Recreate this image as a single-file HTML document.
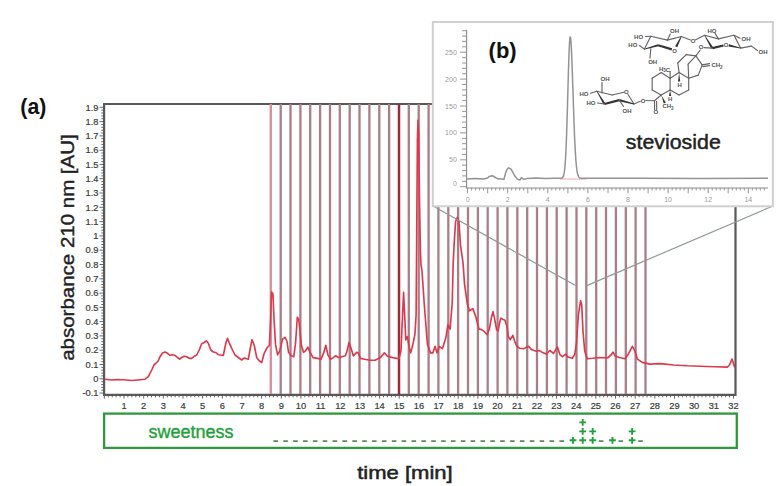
<!DOCTYPE html>
<html><head><meta charset="utf-8"><style>
html,body{margin:0;padding:0;background:#fff;width:780px;height:486px;overflow:hidden;position:relative;font-family:"Liberation Sans",sans-serif}
</style></head><body><svg width="780" height="486" viewBox="0 0 780 486" style="position:absolute;left:0;top:0">
<text x="20.3" y="114" font-family="Liberation Sans" font-weight="bold" font-size="22" textLength="26" lengthAdjust="spacingAndGlyphs" fill="#111">(a)</text>
<text transform="translate(74.2,360.8) rotate(-90)" font-family="Liberation Sans" font-size="19" textLength="226.5" lengthAdjust="spacingAndGlyphs" stroke="#222" stroke-width="0.4" fill="#222">absorbance 210 nm [AU]</text>
<text x="98.5" y="396.3" text-anchor="end" font-family="Liberation Sans" font-size="9.3" stroke="#3a3a3a" stroke-width="0.2" fill="#3a3a3a">-0.1</text>
<text x="98.5" y="382.0" text-anchor="end" font-family="Liberation Sans" font-size="9.3" stroke="#3a3a3a" stroke-width="0.2" fill="#3a3a3a">0</text>
<text x="98.5" y="367.7" text-anchor="end" font-family="Liberation Sans" font-size="9.3" stroke="#3a3a3a" stroke-width="0.2" fill="#3a3a3a">0.1</text>
<text x="98.5" y="353.4" text-anchor="end" font-family="Liberation Sans" font-size="9.3" stroke="#3a3a3a" stroke-width="0.2" fill="#3a3a3a">0.2</text>
<text x="98.5" y="339.1" text-anchor="end" font-family="Liberation Sans" font-size="9.3" stroke="#3a3a3a" stroke-width="0.2" fill="#3a3a3a">0.3</text>
<text x="98.5" y="324.8" text-anchor="end" font-family="Liberation Sans" font-size="9.3" stroke="#3a3a3a" stroke-width="0.2" fill="#3a3a3a">0.4</text>
<text x="98.5" y="310.6" text-anchor="end" font-family="Liberation Sans" font-size="9.3" stroke="#3a3a3a" stroke-width="0.2" fill="#3a3a3a">0.5</text>
<text x="98.5" y="296.3" text-anchor="end" font-family="Liberation Sans" font-size="9.3" stroke="#3a3a3a" stroke-width="0.2" fill="#3a3a3a">0.6</text>
<text x="98.5" y="282.0" text-anchor="end" font-family="Liberation Sans" font-size="9.3" stroke="#3a3a3a" stroke-width="0.2" fill="#3a3a3a">0.7</text>
<text x="98.5" y="267.7" text-anchor="end" font-family="Liberation Sans" font-size="9.3" stroke="#3a3a3a" stroke-width="0.2" fill="#3a3a3a">0.8</text>
<text x="98.5" y="253.4" text-anchor="end" font-family="Liberation Sans" font-size="9.3" stroke="#3a3a3a" stroke-width="0.2" fill="#3a3a3a">0.9</text>
<text x="98.5" y="239.1" text-anchor="end" font-family="Liberation Sans" font-size="9.3" stroke="#3a3a3a" stroke-width="0.2" fill="#3a3a3a">1</text>
<text x="98.5" y="224.8" text-anchor="end" font-family="Liberation Sans" font-size="9.3" stroke="#3a3a3a" stroke-width="0.2" fill="#3a3a3a">1.1</text>
<text x="98.5" y="210.5" text-anchor="end" font-family="Liberation Sans" font-size="9.3" stroke="#3a3a3a" stroke-width="0.2" fill="#3a3a3a">1.2</text>
<text x="98.5" y="196.2" text-anchor="end" font-family="Liberation Sans" font-size="9.3" stroke="#3a3a3a" stroke-width="0.2" fill="#3a3a3a">1.3</text>
<text x="98.5" y="181.9" text-anchor="end" font-family="Liberation Sans" font-size="9.3" stroke="#3a3a3a" stroke-width="0.2" fill="#3a3a3a">1.4</text>
<text x="98.5" y="167.6" text-anchor="end" font-family="Liberation Sans" font-size="9.3" stroke="#3a3a3a" stroke-width="0.2" fill="#3a3a3a">1.5</text>
<text x="98.5" y="153.4" text-anchor="end" font-family="Liberation Sans" font-size="9.3" stroke="#3a3a3a" stroke-width="0.2" fill="#3a3a3a">1.6</text>
<text x="98.5" y="139.1" text-anchor="end" font-family="Liberation Sans" font-size="9.3" stroke="#3a3a3a" stroke-width="0.2" fill="#3a3a3a">1.7</text>
<text x="98.5" y="124.8" text-anchor="end" font-family="Liberation Sans" font-size="9.3" stroke="#3a3a3a" stroke-width="0.2" fill="#3a3a3a">1.8</text>
<text x="98.5" y="110.5" text-anchor="end" font-family="Liberation Sans" font-size="9.3" stroke="#3a3a3a" stroke-width="0.2" fill="#3a3a3a">1.9</text>
<path d="M99.5 393.1H104 M101.3 390.2H104 M101.3 387.4H104 M101.3 384.5H104 M101.3 381.7H104 M99.5 378.8H104 M101.3 375.9H104 M101.3 373.1H104 M101.3 370.2H104 M101.3 367.4H104 M99.5 364.5H104 M101.3 361.7H104 M101.3 358.8H104 M101.3 355.9H104 M101.3 353.1H104 M99.5 350.2H104 M101.3 347.4H104 M101.3 344.5H104 M101.3 341.6H104 M101.3 338.8H104 M99.5 335.9H104 M101.3 333.1H104 M101.3 330.2H104 M101.3 327.4H104 M101.3 324.5H104 M99.5 321.6H104 M101.3 318.8H104 M101.3 315.9H104 M101.3 313.1H104 M101.3 310.2H104 M99.5 307.4H104 M101.3 304.5H104 M101.3 301.6H104 M101.3 298.8H104 M101.3 295.9H104 M99.5 293.1H104 M101.3 290.2H104 M101.3 287.3H104 M101.3 284.5H104 M101.3 281.6H104 M99.5 278.8H104 M101.3 275.9H104 M101.3 273.1H104 M101.3 270.2H104 M101.3 267.3H104 M99.5 264.5H104 M101.3 261.6H104 M101.3 258.8H104 M101.3 255.9H104 M101.3 253.0H104 M99.5 250.2H104 M101.3 247.3H104 M101.3 244.5H104 M101.3 241.6H104 M101.3 238.8H104 M99.5 235.9H104 M101.3 233.0H104 M101.3 230.2H104 M101.3 227.3H104 M101.3 224.5H104 M99.5 221.6H104 M101.3 218.8H104 M101.3 215.9H104 M101.3 213.0H104 M101.3 210.2H104 M99.5 207.3H104 M101.3 204.5H104 M101.3 201.6H104 M101.3 198.7H104 M101.3 195.9H104 M99.5 193.0H104 M101.3 190.2H104 M101.3 187.3H104 M101.3 184.5H104 M101.3 181.6H104 M99.5 178.7H104 M101.3 175.9H104 M101.3 173.0H104 M101.3 170.2H104 M101.3 167.3H104 M99.5 164.4H104 M101.3 161.6H104 M101.3 158.7H104 M101.3 155.9H104 M101.3 153.0H104 M99.5 150.2H104 M101.3 147.3H104 M101.3 144.4H104 M101.3 141.6H104 M101.3 138.7H104 M99.5 135.9H104 M101.3 133.0H104 M101.3 130.2H104 M101.3 127.3H104 M101.3 124.4H104 M99.5 121.6H104 M101.3 118.7H104 M101.3 115.9H104 M101.3 113.0H104 M101.3 110.1H104 M99.5 107.3H104 M104.3 395V398.6 M108.3 395V397.4 M112.2 395V397.4 M116.1 395V397.4 M120.1 395V397.4 M124.0 395V398.6 M127.9 395V397.4 M131.9 395V397.4 M135.8 395V397.4 M139.7 395V397.4 M143.7 395V398.6 M147.6 395V397.4 M151.5 395V397.4 M155.5 395V397.4 M159.4 395V397.4 M163.3 395V398.6 M167.3 395V397.4 M171.2 395V397.4 M175.1 395V397.4 M179.0 395V397.4 M183.0 395V398.6 M186.9 395V397.4 M190.8 395V397.4 M194.8 395V397.4 M198.7 395V397.4 M202.6 395V398.6 M206.6 395V397.4 M210.5 395V397.4 M214.4 395V397.4 M218.4 395V397.4 M222.3 395V398.6 M226.2 395V397.4 M230.2 395V397.4 M234.1 395V397.4 M238.0 395V397.4 M242.0 395V398.6 M245.9 395V397.4 M249.8 395V397.4 M253.8 395V397.4 M257.7 395V397.4 M261.6 395V398.6 M265.6 395V397.4 M269.5 395V397.4 M273.4 395V397.4 M277.3 395V397.4 M281.3 395V398.6 M285.2 395V397.4 M289.1 395V397.4 M293.1 395V397.4 M297.0 395V397.4 M300.9 395V398.6 M304.9 395V397.4 M308.8 395V397.4 M312.7 395V397.4 M316.7 395V397.4 M320.6 395V398.6 M324.5 395V397.4 M328.5 395V397.4 M332.4 395V397.4 M336.3 395V397.4 M340.3 395V398.6 M344.2 395V397.4 M348.1 395V397.4 M352.1 395V397.4 M356.0 395V397.4 M359.9 395V398.6 M363.9 395V397.4 M367.8 395V397.4 M371.7 395V397.4 M375.6 395V397.4 M379.6 395V398.6 M383.5 395V397.4 M387.4 395V397.4 M391.4 395V397.4 M395.3 395V397.4 M399.2 395V398.6 M403.2 395V397.4 M407.1 395V397.4 M411.0 395V397.4 M415.0 395V397.4 M418.9 395V398.6 M422.8 395V397.4 M426.8 395V397.4 M430.7 395V397.4 M434.6 395V397.4 M438.6 395V398.6 M442.5 395V397.4 M446.4 395V397.4 M450.4 395V397.4 M454.3 395V397.4 M458.2 395V398.6 M462.2 395V397.4 M466.1 395V397.4 M470.0 395V397.4 M473.9 395V397.4 M477.9 395V398.6 M481.8 395V397.4 M485.7 395V397.4 M489.7 395V397.4 M493.6 395V397.4 M497.5 395V398.6 M501.5 395V397.4 M505.4 395V397.4 M509.3 395V397.4 M513.3 395V397.4 M517.2 395V398.6 M521.1 395V397.4 M525.1 395V397.4 M529.0 395V397.4 M532.9 395V397.4 M536.9 395V398.6 M540.8 395V397.4 M544.7 395V397.4 M548.7 395V397.4 M552.6 395V397.4 M556.5 395V398.6 M560.5 395V397.4 M564.4 395V397.4 M568.3 395V397.4 M572.2 395V397.4 M576.2 395V398.6 M580.1 395V397.4 M584.0 395V397.4 M588.0 395V397.4 M591.9 395V397.4 M595.8 395V398.6 M599.8 395V397.4 M603.7 395V397.4 M607.6 395V397.4 M611.6 395V397.4 M615.5 395V398.6 M619.4 395V397.4 M623.4 395V397.4 M627.3 395V397.4 M631.2 395V397.4 M635.2 395V398.6 M639.1 395V397.4 M643.0 395V397.4 M647.0 395V397.4 M650.9 395V397.4 M654.8 395V398.6 M658.8 395V397.4 M662.7 395V397.4 M666.6 395V397.4 M670.5 395V397.4 M674.5 395V398.6 M678.4 395V397.4 M682.3 395V397.4 M686.3 395V397.4 M690.2 395V397.4 M694.1 395V398.6 M698.1 395V397.4 M702.0 395V397.4 M705.9 395V397.4 M709.9 395V397.4 M713.8 395V398.6 M717.7 395V397.4 M721.7 395V397.4 M725.6 395V397.4 M729.5 395V397.4 M733.5 395V398.6" stroke="#666" stroke-width="1" fill="none"/>
<text x="124.0" y="408.9" text-anchor="middle" font-family="Liberation Sans" font-size="9.3" stroke="#3a3a3a" stroke-width="0.2" fill="#3a3a3a">1</text>
<text x="143.7" y="408.9" text-anchor="middle" font-family="Liberation Sans" font-size="9.3" stroke="#3a3a3a" stroke-width="0.2" fill="#3a3a3a">2</text>
<text x="163.3" y="408.9" text-anchor="middle" font-family="Liberation Sans" font-size="9.3" stroke="#3a3a3a" stroke-width="0.2" fill="#3a3a3a">3</text>
<text x="183.0" y="408.9" text-anchor="middle" font-family="Liberation Sans" font-size="9.3" stroke="#3a3a3a" stroke-width="0.2" fill="#3a3a3a">4</text>
<text x="202.6" y="408.9" text-anchor="middle" font-family="Liberation Sans" font-size="9.3" stroke="#3a3a3a" stroke-width="0.2" fill="#3a3a3a">5</text>
<text x="222.3" y="408.9" text-anchor="middle" font-family="Liberation Sans" font-size="9.3" stroke="#3a3a3a" stroke-width="0.2" fill="#3a3a3a">6</text>
<text x="242.0" y="408.9" text-anchor="middle" font-family="Liberation Sans" font-size="9.3" stroke="#3a3a3a" stroke-width="0.2" fill="#3a3a3a">7</text>
<text x="261.6" y="408.9" text-anchor="middle" font-family="Liberation Sans" font-size="9.3" stroke="#3a3a3a" stroke-width="0.2" fill="#3a3a3a">8</text>
<text x="281.3" y="408.9" text-anchor="middle" font-family="Liberation Sans" font-size="9.3" stroke="#3a3a3a" stroke-width="0.2" fill="#3a3a3a">9</text>
<text x="300.9" y="408.9" text-anchor="middle" font-family="Liberation Sans" font-size="9.3" stroke="#3a3a3a" stroke-width="0.2" fill="#3a3a3a">10</text>
<text x="320.6" y="408.9" text-anchor="middle" font-family="Liberation Sans" font-size="9.3" stroke="#3a3a3a" stroke-width="0.2" fill="#3a3a3a">11</text>
<text x="340.3" y="408.9" text-anchor="middle" font-family="Liberation Sans" font-size="9.3" stroke="#3a3a3a" stroke-width="0.2" fill="#3a3a3a">12</text>
<text x="359.9" y="408.9" text-anchor="middle" font-family="Liberation Sans" font-size="9.3" stroke="#3a3a3a" stroke-width="0.2" fill="#3a3a3a">13</text>
<text x="379.6" y="408.9" text-anchor="middle" font-family="Liberation Sans" font-size="9.3" stroke="#3a3a3a" stroke-width="0.2" fill="#3a3a3a">14</text>
<text x="399.2" y="408.9" text-anchor="middle" font-family="Liberation Sans" font-size="9.3" stroke="#3a3a3a" stroke-width="0.2" fill="#3a3a3a">15</text>
<text x="418.9" y="408.9" text-anchor="middle" font-family="Liberation Sans" font-size="9.3" stroke="#3a3a3a" stroke-width="0.2" fill="#3a3a3a">16</text>
<text x="438.6" y="408.9" text-anchor="middle" font-family="Liberation Sans" font-size="9.3" stroke="#3a3a3a" stroke-width="0.2" fill="#3a3a3a">17</text>
<text x="458.2" y="408.9" text-anchor="middle" font-family="Liberation Sans" font-size="9.3" stroke="#3a3a3a" stroke-width="0.2" fill="#3a3a3a">18</text>
<text x="477.9" y="408.9" text-anchor="middle" font-family="Liberation Sans" font-size="9.3" stroke="#3a3a3a" stroke-width="0.2" fill="#3a3a3a">19</text>
<text x="497.5" y="408.9" text-anchor="middle" font-family="Liberation Sans" font-size="9.3" stroke="#3a3a3a" stroke-width="0.2" fill="#3a3a3a">20</text>
<text x="517.2" y="408.9" text-anchor="middle" font-family="Liberation Sans" font-size="9.3" stroke="#3a3a3a" stroke-width="0.2" fill="#3a3a3a">21</text>
<text x="536.9" y="408.9" text-anchor="middle" font-family="Liberation Sans" font-size="9.3" stroke="#3a3a3a" stroke-width="0.2" fill="#3a3a3a">22</text>
<text x="556.5" y="408.9" text-anchor="middle" font-family="Liberation Sans" font-size="9.3" stroke="#3a3a3a" stroke-width="0.2" fill="#3a3a3a">23</text>
<text x="576.2" y="408.9" text-anchor="middle" font-family="Liberation Sans" font-size="9.3" stroke="#3a3a3a" stroke-width="0.2" fill="#3a3a3a">24</text>
<text x="595.8" y="408.9" text-anchor="middle" font-family="Liberation Sans" font-size="9.3" stroke="#3a3a3a" stroke-width="0.2" fill="#3a3a3a">25</text>
<text x="615.5" y="408.9" text-anchor="middle" font-family="Liberation Sans" font-size="9.3" stroke="#3a3a3a" stroke-width="0.2" fill="#3a3a3a">26</text>
<text x="635.2" y="408.9" text-anchor="middle" font-family="Liberation Sans" font-size="9.3" stroke="#3a3a3a" stroke-width="0.2" fill="#3a3a3a">27</text>
<text x="654.8" y="408.9" text-anchor="middle" font-family="Liberation Sans" font-size="9.3" stroke="#3a3a3a" stroke-width="0.2" fill="#3a3a3a">28</text>
<text x="674.5" y="408.9" text-anchor="middle" font-family="Liberation Sans" font-size="9.3" stroke="#3a3a3a" stroke-width="0.2" fill="#3a3a3a">29</text>
<text x="694.1" y="408.9" text-anchor="middle" font-family="Liberation Sans" font-size="9.3" stroke="#3a3a3a" stroke-width="0.2" fill="#3a3a3a">30</text>
<text x="713.8" y="408.9" text-anchor="middle" font-family="Liberation Sans" font-size="9.3" stroke="#3a3a3a" stroke-width="0.2" fill="#3a3a3a">31</text>
<text x="733.5" y="408.9" text-anchor="middle" font-family="Liberation Sans" font-size="9.3" stroke="#3a3a3a" stroke-width="0.2" fill="#3a3a3a">32</text>
<path d="M103 104H433 M104.1 103V395.9 M103 394.8H736.6 M735.5 206V395.9" stroke="#585858" stroke-width="2.2" fill="none"/>
<line x1="270.8" y1="104" x2="270.8" y2="394" stroke="#de8a98" stroke-width="2.3"/>
<line x1="280.7" y1="104" x2="280.7" y2="394" stroke="#a87e88" stroke-width="2.3"/>
<line x1="290.5" y1="104" x2="290.5" y2="394" stroke="#a87e88" stroke-width="2.3"/>
<line x1="300.4" y1="104" x2="300.4" y2="394" stroke="#a87e88" stroke-width="2.3"/>
<line x1="310.2" y1="104" x2="310.2" y2="394" stroke="#a87e88" stroke-width="2.3"/>
<line x1="320.1" y1="104" x2="320.1" y2="394" stroke="#a87e88" stroke-width="2.3"/>
<line x1="330.0" y1="104" x2="330.0" y2="394" stroke="#a87e88" stroke-width="2.3"/>
<line x1="339.8" y1="104" x2="339.8" y2="394" stroke="#a87e88" stroke-width="2.3"/>
<line x1="349.7" y1="104" x2="349.7" y2="394" stroke="#a87e88" stroke-width="2.3"/>
<line x1="359.5" y1="104" x2="359.5" y2="394" stroke="#a87e88" stroke-width="2.3"/>
<line x1="369.4" y1="104" x2="369.4" y2="394" stroke="#a87e88" stroke-width="2.3"/>
<line x1="379.3" y1="104" x2="379.3" y2="394" stroke="#a87e88" stroke-width="2.3"/>
<line x1="389.1" y1="104" x2="389.1" y2="394" stroke="#a87e88" stroke-width="2.3"/>
<line x1="399.0" y1="104" x2="399.0" y2="394" stroke="#a02838" stroke-width="2.5"/>
<line x1="408.8" y1="104" x2="408.8" y2="394" stroke="#a87e88" stroke-width="2.3"/>
<line x1="418.7" y1="104" x2="418.7" y2="394" stroke="#a87e88" stroke-width="2.3"/>
<line x1="428.6" y1="104" x2="428.6" y2="394" stroke="#a87e88" stroke-width="2.3"/>
<line x1="438.4" y1="104" x2="438.4" y2="394" stroke="#a87e88" stroke-width="2.3"/>
<line x1="448.3" y1="104" x2="448.3" y2="394" stroke="#a87e88" stroke-width="2.3"/>
<line x1="458.1" y1="104" x2="458.1" y2="394" stroke="#a87e88" stroke-width="2.3"/>
<line x1="468.0" y1="104" x2="468.0" y2="394" stroke="#a87e88" stroke-width="2.3"/>
<line x1="477.9" y1="104" x2="477.9" y2="394" stroke="#a87e88" stroke-width="2.3"/>
<line x1="487.7" y1="104" x2="487.7" y2="394" stroke="#a87e88" stroke-width="2.3"/>
<line x1="497.6" y1="104" x2="497.6" y2="394" stroke="#a87e88" stroke-width="2.3"/>
<line x1="507.4" y1="104" x2="507.4" y2="394" stroke="#a87e88" stroke-width="2.3"/>
<line x1="517.3" y1="104" x2="517.3" y2="394" stroke="#a87e88" stroke-width="2.3"/>
<line x1="527.2" y1="104" x2="527.2" y2="394" stroke="#a87e88" stroke-width="2.3"/>
<line x1="537.0" y1="104" x2="537.0" y2="394" stroke="#a87e88" stroke-width="2.3"/>
<line x1="546.9" y1="104" x2="546.9" y2="394" stroke="#a87e88" stroke-width="2.3"/>
<line x1="556.7" y1="104" x2="556.7" y2="394" stroke="#a87e88" stroke-width="2.3"/>
<line x1="566.6" y1="104" x2="566.6" y2="394" stroke="#a87e88" stroke-width="2.3"/>
<line x1="576.5" y1="104" x2="576.5" y2="394" stroke="#a87e88" stroke-width="2.3"/>
<line x1="586.3" y1="104" x2="586.3" y2="394" stroke="#a87e88" stroke-width="2.3"/>
<line x1="596.2" y1="104" x2="596.2" y2="394" stroke="#a87e88" stroke-width="2.3"/>
<line x1="606.0" y1="104" x2="606.0" y2="394" stroke="#a87e88" stroke-width="2.3"/>
<line x1="615.9" y1="104" x2="615.9" y2="394" stroke="#a87e88" stroke-width="2.3"/>
<line x1="625.8" y1="104" x2="625.8" y2="394" stroke="#a87e88" stroke-width="2.3"/>
<line x1="635.6" y1="104" x2="635.6" y2="394" stroke="#a87e88" stroke-width="2.3"/>
<line x1="645.5" y1="104" x2="645.5" y2="394" stroke="#a87e88" stroke-width="2.3"/>
<polyline points="104.6,379.2 111.5,380.0 117.0,379.6 123.0,379.8 132.3,380.5 140.0,379.7 145.0,379.2 148.3,376.7 151.7,370.0 154.2,364.7 156.7,362.5 158.3,360.8 160.0,356.7 162.5,353.0 165.0,352.0 167.5,353.3 170.0,355.3 172.5,354.7 175.0,355.3 177.5,357.5 179.7,359.2 181.7,357.5 184.2,356.3 186.7,356.7 189.2,358.3 191.7,358.3 194.2,356.3 196.7,355.0 199.2,350.0 201.7,343.7 204.2,342.5 206.3,340.8 208.3,343.3 210.8,350.0 213.3,352.0 215.8,352.5 218.3,354.7 220.8,355.0 223.3,355.5 225.8,343.3 227.5,338.3 230.0,344.7 232.5,350.0 235.0,355.0 238.3,357.5 241.7,360.0 244.2,358.0 248.3,359.2 250.0,350.0 252.0,339.7 254.2,345.0 256.7,357.5 259.2,360.8 261.7,362.5 264.2,353.3 266.7,348.3 269.4,345.3 270.6,320.0 271.5,292.0 272.9,293.7 274.1,320.0 275.5,344.4 277.6,354.9 279.9,350.6 282.5,339.2 285.1,337.4 286.9,341.0 288.6,352.3 291.2,355.8 293.8,356.7 295.6,342.7 297.3,317.3 298.7,319.1 300.0,330.5 301.4,345.3 303.5,352.3 305.7,350.6 307.8,347.1 310.1,352.3 313.1,357.6 317.4,358.4 320.9,359.3 323.6,353.2 325.8,345.3 327.9,354.9 330.6,359.3 333.2,357.6 335.8,355.8 338.4,357.6 341.9,356.7 345.4,355.8 347.2,350.6 348.9,342.7 350.7,347.1 353.3,355.8 356.8,352.3 358.5,353.2 360.3,358.4 364.7,359.3 369.9,360.2 375.1,360.2 380.4,357.6 384.4,352.8 387.4,356.3 392.6,357.6 398.9,358.8 401.0,350.7 402.6,314.0 403.6,292.4 404.7,316.2 405.8,339.9 407.5,336.7 409.0,346.4 410.6,352.9 412.7,345.3 414.9,334.5 416.1,315.0 416.6,250.0 417.4,140.0 418.0,120.2 418.7,135.0 419.5,200.0 420.4,250.0 421.0,265.0 422.0,270.8 424.2,303.2 427.4,344.2 430.6,352.9 432.8,352.9 435.0,346.4 437.1,352.9 439.3,346.4 442.5,348.6 445.8,337.8 447.9,324.8 450.1,329.1 452.2,303.2 453.2,262.6 454.5,237.9 455.6,221.5 457.3,217.3 458.9,221.5 460.6,246.2 463.0,262.6 464.5,283.8 467.4,304.3 469.5,310.8 472.8,308.6 476.0,317.2 477.2,322.4 479.0,328.9 481.5,329.6 484.4,331.7 487.2,334.6 489.4,328.9 491.3,318.1 493.0,311.6 494.5,318.1 496.6,329.6 498.1,331.0 499.5,323.1 500.9,318.1 503.1,319.5 505.0,320.2 507.0,326.7 508.4,336.8 510.3,339.7 512.8,335.3 514.6,341.1 516.8,346.2 519.7,348.3 524.0,348.6 528.3,346.2 531.9,349.8 536.2,351.2 539.1,350.5 542.7,352.6 546.3,354.1 549.9,350.5 553.5,353.4 557.4,346.9 560.0,354.8 562.5,356.7 565.8,354.2 567.4,356.7 572.3,358.3 574.8,354.2 576.5,342.7 578.4,314.7 580.6,300.7 581.7,304.8 583.0,331.2 584.7,350.9 587.2,358.8 592.9,358.3 599.5,357.5 607.7,357.8 611.0,355.0 613.0,352.2 615.1,355.8 619.3,357.5 625.0,358.8 628.3,354.2 632.4,346.3 634.9,350.9 637.4,359.1 642.3,362.4 650.0,364.1 660.3,363.6 673.7,365.0 687.0,365.8 700.4,366.3 715.0,366.8 727.2,367.1 729.5,365.0 732.0,359.1 734.7,367.6" fill="none" stroke="#dc3a4c" stroke-width="1.65" stroke-linejoin="round"/>
<path d="M433 206 L575.6 285.6 M586.8 285.6 L773 206" stroke="#909898" stroke-width="1.2" fill="none"/>
<rect x="104.1" y="413.6" width="632.7" height="34.3" fill="none" stroke="#32963c" stroke-width="2.3"/>
<text x="148.6" y="438.3" font-family="Liberation Sans" font-size="18" textLength="85" lengthAdjust="spacingAndGlyphs" stroke="#22a03a" stroke-width="0.35" fill="#22a03a">sweetness</text>
<path d="M273.4 441.2H278.0 M283.3 441.2H287.9 M293.1 441.2H297.8 M303.0 441.2H307.6 M312.9 441.2H317.5 M322.7 441.2H327.3 M332.6 441.2H337.2 M342.4 441.2H347.1 M352.3 441.2H356.9 M362.2 441.2H366.8 M372.0 441.2H376.6 M381.9 441.2H386.5 M391.8 441.2H396.4 M401.6 441.2H406.2 M411.5 441.2H416.1 M421.3 441.2H425.9 M431.2 441.2H435.8 M441.1 441.2H445.7 M450.9 441.2H455.5 M460.8 441.2H465.4 M470.6 441.2H475.2 M480.5 441.2H485.1 M490.3 441.2H494.9 M500.2 441.2H504.8 M510.1 441.2H514.7 M519.9 441.2H524.5 M529.8 441.2H534.4 M539.7 441.2H544.2 M549.5 441.2H554.1 M559.4 441.2H564.0 M598.8 441.2H603.4 M618.5 441.2H623.1 M638.2 441.2H642.8" stroke="#5a8a60" stroke-width="1.8" fill="none"/>
<path d="M569.6 440.3H576.4 M573.0 436.9V443.7 M579.3 440.3H586.1 M582.7 436.9V443.7 M589.3 440.3H596.1 M592.7 436.9V443.7 M609.1 440.3H615.9 M612.5 436.9V443.7 M628.7 440.3H635.5 M632.1 436.9V443.7 M579.3 431.4H586.1 M582.7 428.0V434.8 M589.3 431.4H596.1 M592.7 428.0V434.8 M628.7 431.4H635.5 M632.1 428.0V434.8 M579.3 422.4H586.1 M582.7 419.0V425.8" stroke="#22a03a" stroke-width="1.9" fill="none"/>
<text x="357.2" y="478.8" font-family="Liberation Sans" font-size="18.5" textLength="95.5" lengthAdjust="spacingAndGlyphs" stroke="#222" stroke-width="0.5" fill="#222">time [min]</text>
<rect x="432.8" y="22" width="340.1" height="184.3" fill="#fff" stroke="#d0d0d0" stroke-width="2"/>
<path d="M466.6 29.8 V188 M466 188 H768" stroke="#8a8a8a" stroke-width="1.1" fill="none"/>
<path d="M460.1 186.7H466.6 M462.1 181.3H466.6 M462.1 175.9H466.6 M462.1 170.6H466.6 M462.1 165.2H466.6 M460.1 159.8H466.6 M462.1 154.4H466.6 M462.1 149.0H466.6 M462.1 143.7H466.6 M462.1 138.3H466.6 M460.1 132.9H466.6 M462.1 127.5H466.6 M462.1 122.1H466.6 M462.1 116.8H466.6 M462.1 111.4H466.6 M460.1 106.0H466.6 M462.1 100.6H466.6 M462.1 95.2H466.6 M462.1 89.9H466.6 M462.1 84.5H466.6 M460.1 79.1H466.6 M462.1 73.7H466.6 M462.1 68.3H466.6 M462.1 63.0H466.6 M462.1 57.6H466.6 M460.1 52.2H466.6 M462.1 46.8H466.6 M462.1 41.4H466.6 M462.1 36.1H466.6 M462.1 30.7H466.6 M467.6 188V193.3 M471.6 188V190.5 M475.6 188V190.5 M479.6 188V190.5 M483.6 188V190.5 M487.7 188V193.3 M491.7 188V190.5 M495.7 188V190.5 M499.7 188V190.5 M503.7 188V190.5 M507.7 188V193.3 M511.7 188V190.5 M515.7 188V190.5 M519.7 188V190.5 M523.7 188V190.5 M527.8 188V193.3 M531.8 188V190.5 M535.8 188V190.5 M539.8 188V190.5 M543.8 188V190.5 M547.8 188V193.3 M551.8 188V190.5 M555.8 188V190.5 M559.8 188V190.5 M563.8 188V190.5 M567.9 188V193.3 M571.9 188V190.5 M575.9 188V190.5 M579.9 188V190.5 M583.9 188V190.5 M587.9 188V193.3 M591.9 188V190.5 M595.9 188V190.5 M599.9 188V190.5 M603.9 188V190.5 M608.0 188V193.3 M612.0 188V190.5 M616.0 188V190.5 M620.0 188V190.5 M624.0 188V190.5 M628.0 188V193.3 M632.0 188V190.5 M636.0 188V190.5 M640.0 188V190.5 M644.0 188V190.5 M648.1 188V193.3 M652.1 188V190.5 M656.1 188V190.5 M660.1 188V190.5 M664.1 188V190.5 M668.1 188V193.3 M672.1 188V190.5 M676.1 188V190.5 M680.1 188V190.5 M684.1 188V190.5 M688.2 188V193.3 M692.2 188V190.5 M696.2 188V190.5 M700.2 188V190.5 M704.2 188V190.5 M708.2 188V193.3 M712.2 188V190.5 M716.2 188V190.5 M720.2 188V190.5 M724.2 188V190.5 M728.2 188V193.3 M732.3 188V190.5 M736.3 188V190.5 M740.3 188V190.5 M744.3 188V190.5 M748.3 188V193.3 M752.3 188V190.5 M756.3 188V190.5 M760.3 188V190.5 M764.3 188V190.5" stroke="#8a8a8a" stroke-width="0.9" fill="none"/>
<text x="456.8" y="186.1" text-anchor="end" font-family="Liberation Sans" font-size="7" fill="#9a9a9a">0</text>
<text x="456.8" y="162.3" text-anchor="end" font-family="Liberation Sans" font-size="7" fill="#9a9a9a">50</text>
<text x="456.8" y="135.4" text-anchor="end" font-family="Liberation Sans" font-size="7" fill="#9a9a9a">100</text>
<text x="456.8" y="108.5" text-anchor="end" font-family="Liberation Sans" font-size="7" fill="#9a9a9a">150</text>
<text x="456.8" y="81.6" text-anchor="end" font-family="Liberation Sans" font-size="7" fill="#9a9a9a">200</text>
<text x="456.8" y="54.7" text-anchor="end" font-family="Liberation Sans" font-size="7" fill="#9a9a9a">250</text>
<text x="467.6" y="201.7" text-anchor="middle" font-family="Liberation Sans" font-size="7" fill="#9a9a9a">0</text>
<text x="507.7" y="201.7" text-anchor="middle" font-family="Liberation Sans" font-size="7" fill="#9a9a9a">2</text>
<text x="547.8" y="201.7" text-anchor="middle" font-family="Liberation Sans" font-size="7" fill="#9a9a9a">4</text>
<text x="587.9" y="201.7" text-anchor="middle" font-family="Liberation Sans" font-size="7" fill="#9a9a9a">6</text>
<text x="628.0" y="201.7" text-anchor="middle" font-family="Liberation Sans" font-size="7" fill="#9a9a9a">8</text>
<text x="668.1" y="201.7" text-anchor="middle" font-family="Liberation Sans" font-size="7" fill="#9a9a9a">10</text>
<text x="708.2" y="201.7" text-anchor="middle" font-family="Liberation Sans" font-size="7" fill="#9a9a9a">12</text>
<text x="748.3" y="201.7" text-anchor="middle" font-family="Liberation Sans" font-size="7" fill="#9a9a9a">14</text>
<rect x="560" y="178.3" width="26.5" height="1.6" fill="#f6c8cc"/>
<polyline points="467.1,179.1 475.3,178.4 483.5,179.1 487.6,178.1 489.1,176.5 492.2,175.8 494.7,177 497.8,178.8 504,179.3 505.5,173.5 507,169.5 508.6,167.8 510.6,168.8 512.5,171.5 514.2,175 517.3,179.1 519.9,180.1 521.4,177.6 524,179.4 526.5,178.6 536.8,178.1 545,178.4 555,178.3 558.0,178.3 558.5,178.3 559.0,178.3 559.5,178.3 560.0,178.29 560.5,178.27 561.0,178.23 561.5,178.15 562.0,177.98 562.5,177.64 563.0,177.0 563.5,175.86 564.0,173.93 564.5,170.82 565.0,166.04 565.5,159.11 566.0,149.59 566.5,137.24 567.0,122.19 567.5,105.01 568.0,86.81 568.5,69.15 569.0,53.83 569.5,42.65 570.0,37.01 570.5,37.31 571.0,42.17 571.5,50.99 572.0,62.97 572.5,77.11 573.0,92.29 573.5,107.5 574.0,121.84 574.5,134.69 575.0,145.68 575.5,154.66 576.0,161.71 576.5,167.02 577.0,170.87 577.5,173.56 578.0,175.37 578.5,176.55 579.0,177.28 579.5,177.73 580.0,177.99 580.5,178.14 581.0,178.22 581.5,178.26 582.0,178.28 582.5,178.29 583.0,178.3 583.5,178.3 584.0,178.3 584.5,178.3 585.0,178.3 585.5,178.3 586.0,178.3 586.5,178.3 587.0,178.3 587.5,178.3 588.0,178.3 600,178.3 640,178.2 700,178.4 768,178.3" fill="none" stroke="#939393" stroke-width="1.5" stroke-linejoin="round"/>
<text x="488.6" y="58" font-family="Liberation Sans" font-weight="bold" font-size="22" textLength="28" lengthAdjust="spacingAndGlyphs" fill="#111">(b)</text>
<text x="625.8" y="148.8" font-family="Liberation Sans" font-size="20.5" textLength="95" lengthAdjust="spacingAndGlyphs" stroke="#222" stroke-width="0.45" fill="#222">stevioside</text>
<line x1="650.8" y1="36.3" x2="667.4" y2="40.1" stroke="#646464" stroke-width="1.15" stroke-linecap="round"/>
<line x1="667.4" y1="40.1" x2="681.3" y2="36.5" stroke="#646464" stroke-width="1.15" stroke-linecap="round"/>
<polygon points="681.03,36.37 675.12,46.27 677.28,47.33 681.57,36.63" fill="#333"/>
<polygon points="672.14,48.15 658.51,44.24 657.89,46.36 671.46,50.45" fill="#333"/>
<polygon points="657.91,44.24 644.29,48.71 644.51,49.49 658.49,46.36" fill="#333"/>
<line x1="644.4" y1="49.1" x2="650.8" y2="36.3" stroke="#646464" stroke-width="1.15" stroke-linecap="round"/>
<text x="674.5" y="52.6" text-anchor="middle" font-family="Liberation Sans" font-weight="bold" font-size="6" fill="#505050">O</text>
<line x1="650.8" y1="36.3" x2="645.5" y2="36.5" stroke="#646464" stroke-width="1.15" stroke-linecap="round"/>
<text x="638.6" y="38.6" text-anchor="middle" font-family="Liberation Sans" font-weight="bold" font-size="6" fill="#505050">HO</text>
<line x1="644.4" y1="49.1" x2="639.5" y2="45.5" stroke="#646464" stroke-width="1.15" stroke-linecap="round"/>
<text x="632.8" y="47.1" text-anchor="middle" font-family="Liberation Sans" font-weight="bold" font-size="6" fill="#505050">HO</text>
<line x1="650.8" y1="48.5" x2="650" y2="58" stroke="#646464" stroke-width="1.15" stroke-linecap="round"/>
<text x="652.7" y="64.3" text-anchor="middle" font-family="Liberation Sans" font-weight="bold" font-size="6" fill="#505050">OH</text>
<line x1="667.4" y1="40.1" x2="670.3" y2="34" stroke="#646464" stroke-width="1.15" stroke-linecap="round"/>
<text x="674.5" y="33.3" text-anchor="middle" font-family="Liberation Sans" font-weight="bold" font-size="6" fill="#505050">OH</text>
<line x1="681.3" y1="36.5" x2="690.5" y2="40" stroke="#646464" stroke-width="1.15" stroke-linecap="round"/>
<text x="693.1" y="43.1" text-anchor="middle" font-family="Liberation Sans" font-weight="bold" font-size="6" fill="#505050">O</text>
<line x1="695.7" y1="39.8" x2="704.6" y2="35.3" stroke="#646464" stroke-width="1.15" stroke-linecap="round"/>
<line x1="704.6" y1="35.3" x2="718.5" y2="38.9" stroke="#646464" stroke-width="1.15" stroke-linecap="round"/>
<line x1="718.5" y1="38.9" x2="734" y2="35.3" stroke="#646464" stroke-width="1.15" stroke-linecap="round"/>
<line x1="734" y1="35.3" x2="740.6" y2="48.1" stroke="#646464" stroke-width="1.15" stroke-linecap="round"/>
<polygon points="740.69,47.71 729.07,44.18 728.53,46.42 740.51,48.49" fill="#333"/>
<polygon points="723.24,44.38 712.04,46.98 712.56,49.22 723.76,46.62" fill="#333"/>
<polygon points="713.29,47.51 704.86,35.15 704.34,35.45 711.31,48.69" fill="#333"/>
<text x="726.2" y="47.1" text-anchor="middle" font-family="Liberation Sans" font-weight="bold" font-size="6" fill="#505050">O</text>
<line x1="718.5" y1="38.9" x2="714.8" y2="33" stroke="#646464" stroke-width="1.15" stroke-linecap="round"/>
<text x="712" y="32.8" text-anchor="middle" font-family="Liberation Sans" font-weight="bold" font-size="6" fill="#505050">HO</text>
<line x1="734" y1="35.3" x2="740" y2="38.2" stroke="#646464" stroke-width="1.15" stroke-linecap="round"/>
<text x="746" y="40.5" text-anchor="middle" font-family="Liberation Sans" font-weight="bold" font-size="6" fill="#505050">OH</text>
<line x1="740.6" y1="48.1" x2="751.4" y2="46.1" stroke="#646464" stroke-width="1.15" stroke-linecap="round"/>
<line x1="751.4" y1="46.1" x2="757.5" y2="50.5" stroke="#646464" stroke-width="1.15" stroke-linecap="round"/>
<text x="763" y="54.1" text-anchor="middle" font-family="Liberation Sans" font-weight="bold" font-size="6" fill="#505050">OH</text>
<line x1="712.3" y1="48.1" x2="704" y2="47.6" stroke="#646464" stroke-width="1.15" stroke-linecap="round"/>
<text x="701" y="49.300000000000004" text-anchor="middle" font-family="Liberation Sans" font-weight="bold" font-size="6" fill="#505050">O</text>
<line x1="700.3" y1="50" x2="695.8" y2="55.9" stroke="#646464" stroke-width="1.15" stroke-linecap="round"/>
<line x1="661.2" y1="72.6" x2="670.1" y2="78.3" stroke="#646464" stroke-width="1.15" stroke-linecap="round"/>
<line x1="670.1" y1="78.3" x2="670.1" y2="89.9" stroke="#646464" stroke-width="1.15" stroke-linecap="round"/>
<line x1="670.1" y1="89.9" x2="661.2" y2="95" stroke="#646464" stroke-width="1.15" stroke-linecap="round"/>
<line x1="661.2" y1="95" x2="652.2" y2="89.9" stroke="#646464" stroke-width="1.15" stroke-linecap="round"/>
<line x1="652.2" y1="89.9" x2="652.2" y2="78.3" stroke="#646464" stroke-width="1.15" stroke-linecap="round"/>
<line x1="652.2" y1="78.3" x2="661.2" y2="72.6" stroke="#646464" stroke-width="1.15" stroke-linecap="round"/>
<line x1="670.1" y1="78.3" x2="679.1" y2="72.6" stroke="#646464" stroke-width="1.15" stroke-linecap="round"/>
<line x1="679.1" y1="72.6" x2="688.7" y2="78.3" stroke="#646464" stroke-width="1.15" stroke-linecap="round"/>
<line x1="688.7" y1="78.3" x2="688.7" y2="89.9" stroke="#646464" stroke-width="1.15" stroke-linecap="round"/>
<line x1="688.7" y1="89.9" x2="679.1" y2="95" stroke="#646464" stroke-width="1.15" stroke-linecap="round"/>
<line x1="679.1" y1="95" x2="670.1" y2="89.9" stroke="#646464" stroke-width="1.15" stroke-linecap="round"/>
<line x1="679.1" y1="72.6" x2="677.8" y2="63" stroke="#646464" stroke-width="1.15" stroke-linecap="round"/>
<line x1="677.8" y1="63" x2="686.2" y2="54.6" stroke="#646464" stroke-width="1.15" stroke-linecap="round"/>
<line x1="686.2" y1="54.6" x2="695.8" y2="55.9" stroke="#646464" stroke-width="1.15" stroke-linecap="round"/>
<line x1="695.8" y1="55.9" x2="702.2" y2="64.9" stroke="#646464" stroke-width="1.15" stroke-linecap="round"/>
<line x1="702.2" y1="64.9" x2="698.3" y2="75.1" stroke="#646464" stroke-width="1.15" stroke-linecap="round"/>
<line x1="698.3" y1="75.1" x2="688.7" y2="78.3" stroke="#646464" stroke-width="1.15" stroke-linecap="round"/>
<line x1="695.8" y1="55.9" x2="688.1" y2="64.2" stroke="#646464" stroke-width="1.15" stroke-linecap="round"/>
<line x1="688.1" y1="64.2" x2="688.7" y2="78.3" stroke="#646464" stroke-width="1.15" stroke-linecap="round"/>
<line x1="702.2" y1="64.9" x2="709.5" y2="63.6" stroke="#646464" stroke-width="1.15" stroke-linecap="round"/>
<line x1="702.8" y1="66.6" x2="709.5" y2="65.6" stroke="#646464" stroke-width="1.15" stroke-linecap="round"/>
<text x="717" y="67.3" text-anchor="middle" font-family="Liberation Sans" font-weight="bold" font-size="6" fill="#505050">CH<tspan font-size="4.5" dy="1.2">2</tspan></text>
<line x1="670.1" y1="78.3" x2="670.1" y2="71.5" stroke="#646464" stroke-width="1.15" stroke-linecap="round"/>
<text x="664.5" y="70.69999999999999" text-anchor="middle" font-family="Liberation Sans" font-weight="bold" font-size="6" fill="#505050">H<tspan font-size="4.5" dy="1.2">3</tspan>C</text>
<path d="M679.1 72.6 L678 81.5 L680.2 81.5 Z" fill="#333"/>
<text x="679.7" y="87.1" text-anchor="middle" font-family="Liberation Sans" font-weight="bold" font-size="6" fill="#505050">H</text>
<path d="M670.1 89.9 L669 96 L671.2 96 Z" fill="#333"/>
<text x="670.1" y="100.89999999999999" text-anchor="middle" font-family="Liberation Sans" font-weight="bold" font-size="6" fill="#505050">H</text>
<line x1="596.8" y1="91.2" x2="612.2" y2="95" stroke="#646464" stroke-width="1.15" stroke-linecap="round"/>
<line x1="612.2" y1="95" x2="623.8" y2="92.3" stroke="#646464" stroke-width="1.15" stroke-linecap="round"/>
<line x1="628" y1="94.5" x2="634" y2="104" stroke="#646464" stroke-width="1.15" stroke-linecap="round"/>
<polygon points="634.10,103.61 619.49,98.99 618.91,101.21 633.90,104.39" fill="#333"/>
<polygon points="618.91,98.99 604.21,102.89 604.79,105.11 619.49,101.21" fill="#333"/>
<polygon points="605.49,103.41 597.06,91.05 596.54,91.35 603.51,104.59" fill="#333"/>
<text x="626.3" y="94.1" text-anchor="middle" font-family="Liberation Sans" font-weight="bold" font-size="6" fill="#505050">O</text>
<line x1="602" y1="93" x2="602" y2="82.5" stroke="#646464" stroke-width="1.15" stroke-linecap="round"/>
<text x="605" y="81.1" text-anchor="middle" font-family="Liberation Sans" font-weight="bold" font-size="6" fill="#505050">OH</text>
<line x1="596.8" y1="91.2" x2="590.5" y2="93.2" stroke="#646464" stroke-width="1.15" stroke-linecap="round"/>
<text x="584" y="95.8" text-anchor="middle" font-family="Liberation Sans" font-weight="bold" font-size="6" fill="#505050">HO</text>
<line x1="604.5" y1="104" x2="597.5" y2="103" stroke="#646464" stroke-width="1.15" stroke-linecap="round"/>
<text x="591" y="104.8" text-anchor="middle" font-family="Liberation Sans" font-weight="bold" font-size="6" fill="#505050">HO</text>
<line x1="619.2" y1="100.1" x2="623.5" y2="106.5" stroke="#646464" stroke-width="1.15" stroke-linecap="round"/>
<text x="627" y="112.5" text-anchor="middle" font-family="Liberation Sans" font-weight="bold" font-size="6" fill="#505050">OH</text>
<line x1="634" y1="104" x2="640.3" y2="101.3" stroke="#646464" stroke-width="1.15" stroke-linecap="round"/>
<text x="643" y="102.5" text-anchor="middle" font-family="Liberation Sans" font-weight="bold" font-size="6" fill="#505050">O</text>
<line x1="645.8" y1="100.5" x2="654.5" y2="100.8" stroke="#646464" stroke-width="1.15" stroke-linecap="round"/>
<line x1="654.5" y1="100.8" x2="654.6" y2="109.5" stroke="#646464" stroke-width="1.15" stroke-linecap="round"/>
<line x1="656.6" y1="101.3" x2="656.7" y2="109.5" stroke="#646464" stroke-width="1.15" stroke-linecap="round"/>
<text x="655.8" y="114.39999999999999" text-anchor="middle" font-family="Liberation Sans" font-weight="bold" font-size="6" fill="#505050">O</text>
<line x1="654.5" y1="100.8" x2="661.2" y2="95" stroke="#646464" stroke-width="1.15" stroke-linecap="round"/>
<path d="M661.2 95 L663.8 103.5 L665.8 102.5 Z" fill="#333"/>
<text x="668" y="108.3" text-anchor="middle" font-family="Liberation Sans" font-weight="bold" font-size="6" fill="#505050">CH<tspan font-size="4.5" dy="1.2">3</tspan></text>
</svg>
</body></html>
